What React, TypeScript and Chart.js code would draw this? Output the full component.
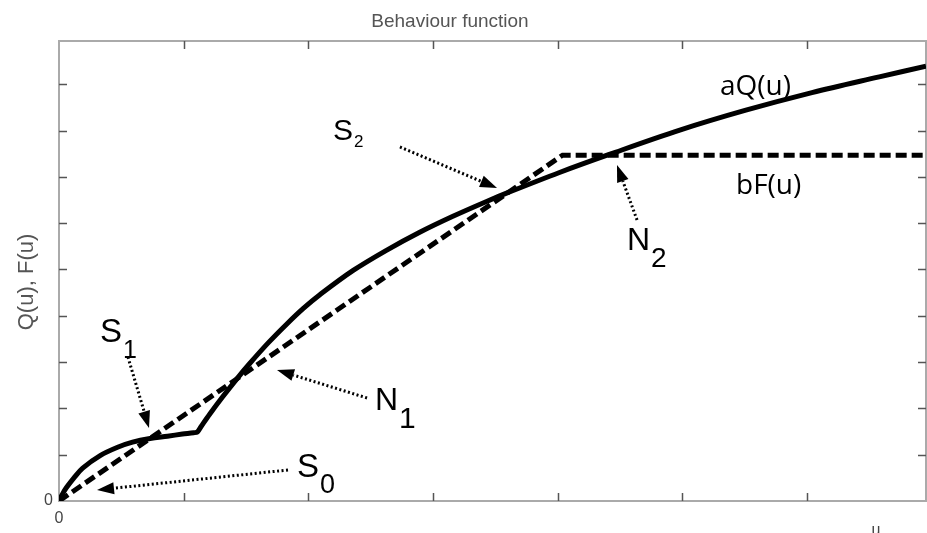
import { useEffect, useRef } from 'react';
import { Chart, registerables } from 'chart.js';

Chart.register(...registerables);

// aQ(u): solid behaviour curve
const uQ = [0, 0.03, 0.06, 0.12, 0.19, 0.33, 0.47, 0.59, 0.73, 0.87, 0.99, 1.08, 1.11, 1.14, 1.21, 1.31, 1.43, 1.53, 1.68, 1.83, 1.96, 2.09, 2.36, 2.63, 2.89, 3.16, 3.43, 3.61, 4.01, 4.42, 4.98, 5.51, 6.04, 6.58, 6.955];
const aQ = [0, 0.16, 0.29, 0.50, 0.71, 0.98, 1.16, 1.27, 1.35, 1.40, 1.445, 1.475, 1.49, 1.61, 1.88, 2.24, 2.65, 2.97, 3.42, 3.83, 4.16, 4.45, 4.98, 5.42, 5.80, 6.15, 6.47, 6.67, 7.09, 7.49, 8.01, 8.44, 8.82, 9.16, 9.39];

// bF(u): dashed ramp then saturation
const uF = [0, 4.04, 6.955];
const bF = [0, 7.47, 7.47];

const X_MAX = 6.955;
const Y_MAX = 9.935;
const ORIGIN_LABEL = '0';

const TITLE = 'Behaviour function';
const Y_TITLE = 'Q(u), F(u)';
const X_TITLE = 'u';

// Equilibrium-point callouts (positions in data units)
type Callout = {
  main: string; sub: string; at: [number, number];
  size: number; subSize: number; subDy: number;
  from: [number, number]; to: [number, number];
};
const callouts: Callout[] = [
  { main: 'S', sub: '2', at: [2.198, 7.797], size: 30, subSize: 17, subDy: 7, from: [2.735, 7.646], to: [3.514, 6.76] },
  { main: 'S', sub: '1', at: [0.329, 3.434], size: 33, subSize: 25, subDy: 16, from: [0.553, 3.11], to: [0.722, 1.577] },
  { main: 'N', sub: '1', at: [2.535, 1.965], size: 32, subSize: 30, subDy: 18, from: [2.471, 2.225], to: [1.749, 2.829] },
  { main: 'S', sub: '0', at: [1.909, 0.518], size: 33, subSize: 27, subDy: 16, from: [1.837, 0.67], to: [0.305, 0.238] },
  { main: 'N', sub: '2', at: [4.556, 5.421], size: 32, subSize: 28, subDy: 17, from: [4.637, 6.069], to: [4.476, 7.257] },
];
const curveLabels: { text: string; at: [number, number] }[] = [
  { text: 'aQ(u)', at: [5.302, 8.769] },
  { text: 'bF(u)', at: [5.431, 6.631] },
];

const SANS = '"Liberation Sans", Arial, sans-serif';

function drawArrow(ctx: CanvasRenderingContext2D, x1: number, y1: number, x2: number, y2: number) {
  const ang = Math.atan2(y2 - y1, x2 - x1);
  const L = 17, W = 6;
  const c = Math.cos(ang), s = Math.sin(ang);
  const bx = x2 - L * c, by = y2 - L * s;
  ctx.save();
  ctx.strokeStyle = '#000';
  ctx.lineWidth = 3;
  ctx.setLineDash([2, 2.5]);
  ctx.beginPath();
  ctx.moveTo(x1, y1);
  ctx.lineTo(bx, by);
  ctx.stroke();
  ctx.setLineDash([]);
  ctx.fillStyle = '#000';
  ctx.beginPath();
  ctx.moveTo(x2, y2);
  ctx.lineTo(bx - W * s, by + W * c);
  ctx.lineTo(bx + W * s, by - W * c);
  ctx.closePath();
  ctx.fill();
  ctx.restore();
}

const decor = {
  id: 'decor',
  beforeDatasetsDraw(chart: any) {
    const { ctx, chartArea: a, scales } = chart;
    const xs = scales.x, ys = scales.y;
    const len = 8;
    ctx.save();
    ctx.strokeStyle = '#555';
    ctx.lineWidth = 1.5;
    ctx.beginPath();
    for (const t of xs.ticks) {
      if (t.value === 0) continue;
      const px = Math.round(xs.getPixelForValue(t.value)) + 0.5;
      ctx.moveTo(px, a.bottom); ctx.lineTo(px, a.bottom - len);
      ctx.moveTo(px, a.top); ctx.lineTo(px, a.top + len);
    }
    for (const t of ys.ticks) {
      if (t.value === 0) continue;
      const py = Math.round(ys.getPixelForValue(t.value)) + 0.5;
      ctx.moveTo(a.left, py); ctx.lineTo(a.left + len, py);
      ctx.moveTo(a.right, py); ctx.lineTo(a.right - len, py);
    }
    ctx.stroke();
    ctx.restore();
  },
  afterDatasetsDraw(chart: any) {
    const { ctx, scales } = chart;
    const X = (v: number) => scales.x.getPixelForValue(v);
    const Y = (v: number) => scales.y.getPixelForValue(v);
    ctx.save();
    ctx.fillStyle = '#000';
    ctx.textBaseline = 'alphabetic';
    ctx.textAlign = 'left';
    for (const c of callouts) {
      drawArrow(ctx, X(c.from[0]), Y(c.from[1]), X(c.to[0]), Y(c.to[1]));
      const tx = X(c.at[0]), ty = Y(c.at[1]);
      ctx.font = `${c.size}px ${SANS}`;
      ctx.fillText(c.main, tx, ty);
      const w = ctx.measureText(c.main).width;
      ctx.font = `${c.subSize}px ${SANS}`;
      ctx.fillText(c.sub, tx + w + 1, ty + c.subDy);
    }
    ctx.font = '28px "Open Sans", sans-serif';
    for (const l of curveLabels) {
      ctx.fillText(l.text, X(l.at[0]), Y(l.at[1]));
    }
    ctx.restore();
  },
  afterDraw(chart: any) {
    const { ctx, chartArea: a } = chart;
    ctx.save();
    ctx.fillStyle = '#555';
    ctx.textAlign = 'center';
    ctx.textBaseline = 'alphabetic';
    ctx.font = `19px ${SANS}`;
    ctx.fillText(TITLE, 450, 27);
    ctx.font = `22px ${SANS}`;
    ctx.translate(33, (a.top + a.bottom) / 2 + 11);
    ctx.rotate(-Math.PI / 2);
    ctx.fillText(Y_TITLE, 0, 0);
    ctx.restore();
    ctx.save();
    ctx.fillStyle = '#444';
    ctx.textAlign = 'center';
    ctx.font = `16px ${SANS}`;
    ctx.fillText(X_TITLE, 876, 535);
    ctx.restore();
  },
};

const axisBorder = { display: true, color: '#aaaaaa', width: 2 };

export default function App() {
  const ref = useRef<HTMLCanvasElement | null>(null);

  useEffect(() => {
    const canvas = ref.current;
    if (!canvas) return;
    const chart = new Chart(canvas, {
      type: 'line',
      data: {
        datasets: [
          {
            label: 'aQ(u)',
            data: uQ.map((u, i) => ({ x: u, y: aQ[i] })),
            borderColor: '#000',
            borderWidth: 5,
            pointRadius: 0,
            tension: 0.35,
            borderJoinStyle: 'round',
            fill: false,
          },
          {
            label: 'bF(u)',
            data: uF.map((u, i) => ({ x: u, y: bF[i] })),
            borderColor: '#000',
            borderWidth: 5,
            borderDash: [11, 5],
            pointRadius: 0,
            tension: 0,
            fill: false,
          },
        ],
      },
      options: {
        responsive: false,
        animation: false,
        devicePixelRatio: 1,
        events: [],
        layout: { padding: 0 },
        plugins: {
          legend: { display: false },
          tooltip: { enabled: false },
          title: { display: false },
        },
        scales: {
          x: {
            type: 'linear',
            position: 'bottom',
            min: 0,
            max: X_MAX,
            border: axisBorder,
            grid: { drawOnChartArea: false, drawTicks: false },
            ticks: {
              stepSize: 1,
              includeBounds: false,
              autoSkip: false,
              maxRotation: 0,
              padding: 8,
              color: '#444',
              font: { family: SANS, size: 16 },
              callback: (v: any) => (Number(v) === 0 ? ORIGIN_LABEL : ''),
            },
            afterFit: (s: any) => { s.height = 32; },
          },
          x2: {
            type: 'linear',
            position: 'top',
            min: 0,
            max: X_MAX,
            border: axisBorder,
            grid: { drawOnChartArea: false, drawTicks: false },
            ticks: { display: false },
            afterFit: (s: any) => { s.height = 41; },
          },
          y: {
            type: 'linear',
            position: 'left',
            min: 0,
            max: Y_MAX,
            border: axisBorder,
            grid: { drawOnChartArea: false, drawTicks: false },
            ticks: {
              stepSize: 1,
              includeBounds: false,
              autoSkip: false,
              padding: 6,
              color: '#444',
              font: { family: SANS, size: 16 },
              callback: (v: any) => (Number(v) === 0 ? ORIGIN_LABEL : ''),
            },
            afterFit: (s: any) => { s.width = 59; },
          },
          y2: {
            type: 'linear',
            position: 'right',
            min: 0,
            max: Y_MAX,
            border: axisBorder,
            grid: { drawOnChartArea: false, drawTicks: false },
            ticks: { display: false },
            afterFit: (s: any) => { s.width = 1; },
          },
        },
      },
      plugins: [decor],
    });
    return () => chart.destroy();
  }, []);

  return (
    <div style={{ position: 'absolute', left: 0, top: 0, width: 927, height: 533, background: '#fff' }}>
      <canvas ref={ref} width={927} height={533} style={{ display: 'block' }} />
    </div>
  );
}
